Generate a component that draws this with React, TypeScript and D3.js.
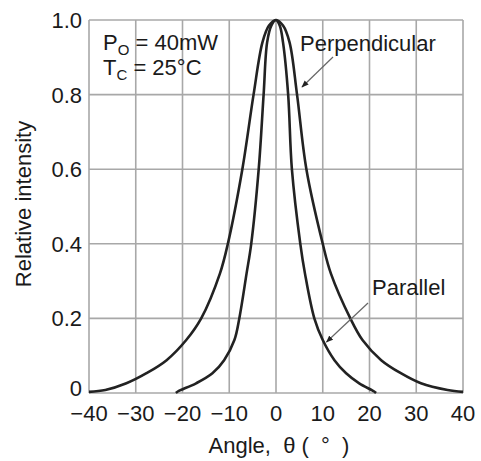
import React from "react";
import * as d3 from "d3";

const perpAngle = [-40, -36.5, -32, -27.7, -23.4, -19.2, -16, -12, -10.3, -7.2, -4.8, -2.9, -1.5, 0, 1.5, 2.9, 4.5, 6.5, 10, 11.75, 15.9, 18.5, 22.5, 26.7, 31, 36.7, 40];
const perpIntensity = [0.003, 0.008, 0.026, 0.053, 0.088, 0.142, 0.2, 0.32, 0.4, 0.6, 0.8, 0.94, 0.985, 1.0, 0.985, 0.94, 0.8, 0.6, 0.4, 0.32, 0.2, 0.142, 0.088, 0.053, 0.026, 0.008, 0.003];

const paraAngle = [-21.4, -21, -17.1, -13.6, -11.1, -8.9, -7.85, -6.3, -5.3, -3.7, -2.65, -1.9, -1.0, 0, 0.8, 1.5, 2.6, 3.4, 5.2, 6.2, 8.2, 10, 12.5, 15, 17.8, 21, 21.4];
const paraIntensity = [0.0, 0.004, 0.026, 0.053, 0.088, 0.142, 0.2, 0.32, 0.4, 0.6, 0.8, 0.94, 0.985, 1.0, 0.985, 0.94, 0.8, 0.6, 0.4, 0.32, 0.2, 0.142, 0.088, 0.053, 0.026, 0.004, 0.0];

const xTicks = [-40, -30, -20, -10, 0, 10, 20, 30, 40];
const yTicks = [0, 0.2, 0.4, 0.6, 0.8, 1.0];
const yTickLabels = ["0", "0.2", "0.4", "0.6", "0.8", "1.0"];

const W = 481;
const H = 461;
const left = 89;
const right = 463;
const top = 20;
const bottom = 393;

const FONT = "'Liberation Sans', Arial, Helvetica, sans-serif";

export default function App() {
  const x = d3.scaleLinear().domain([-40, 40]).range([left, right]);
  const y = d3.scaleLinear().domain([0, 1]).range([bottom, top]);

  const line = d3
    .line<[number, number]>()
    .x((d) => x(d[0]))
    .y((d) => y(d[1]))
    .curve(d3.curveCatmullRom.alpha(0.5));

  const perp: [number, number][] = perpAngle.map((a, i) => [a, perpIntensity[i]]);
  const para: [number, number][] = paraAngle.map((a, i) => [a, paraIntensity[i]]);

  const grid = "#a8a8a8";
  const fs = 22;
  const ink = "#1a1a1a";

  return (
    <svg
      width={W}
      height={H}
      style={{ position: "absolute", left: 0, top: 0, background: "#fff" }}
      fontFamily={FONT}
    >
      <defs>
        <marker id="arr" viewBox="0 0 10 10" refX="9" refY="5" markerWidth="6" markerHeight="6" orient="auto">
          <path d="M0,1 L10,5 L0,9 Z" fill="#222" />
        </marker>
      </defs>
      {xTicks.map((t) => (
        <line key={"gx" + t} x1={x(t)} x2={x(t)} y1={top} y2={bottom} stroke={grid} strokeWidth={1.6} />
      ))}
      {yTicks.map((t) => (
        <line key={"gy" + t} x1={left} x2={right} y1={y(t)} y2={y(t)} stroke={grid} strokeWidth={1.6} />
      ))}
      <path d={line(perp) || ""} fill="none" stroke="#222" strokeWidth={2.6} />
      <path d={line(para) || ""} fill="none" stroke="#222" strokeWidth={2.6} />

      {yTicks.map((t, i) => (
        <text
          key={"ty" + t}
          x={left - 7}
          y={i === 0 ? y(t) + 3 : y(t) + 8}
          textAnchor="end"
          fontSize={fs}
          fill={ink}
        >
          {yTickLabels[i]}
        </text>
      ))}
      {xTicks.map((t) => (
        <text key={"tx" + t} x={x(t)} y={421} textAnchor="middle" fontSize={fs} fill={ink}>
          {t < 0 ? "\u2212" + Math.abs(t) : String(t)}
        </text>
      ))}

      <text x={279} y={453} textAnchor="middle" fontSize={fs} fill={ink} style={{ whiteSpace: "pre" }}>
        {"Angle,  θ (  °  )"}
      </text>
      <text transform={`translate(31,204) rotate(-90)`} textAnchor="middle" fontSize={fs} fill={ink}>
        Relative intensity
      </text>

      <text x={103} y={50} fontSize={fs} fill={ink}>
        P<tspan fontSize={15} dy={5}>O</tspan>
        <tspan dy={-5}> = 40mW</tspan>
      </text>
      <text x={103} y={75} fontSize={fs} fill={ink}>
        T<tspan fontSize={15} dy={5}>C</tspan>
        <tspan dy={-5}> = 25°C</tspan>
      </text>

      <text x={300} y={51} fontSize={fs} fill={ink}>Perpendicular</text>
      <line x1={333} y1={57} x2={302} y2={87} stroke="#666" strokeWidth={1.2} markerEnd="url(#arr)" />

      <text x={372} y={295} fontSize={fs} fill={ink}>Parallel</text>
      <line x1={368} y1={303} x2={326.5} y2={342} stroke="#666" strokeWidth={1.2} markerEnd="url(#arr)" />
    </svg>
  );
}
